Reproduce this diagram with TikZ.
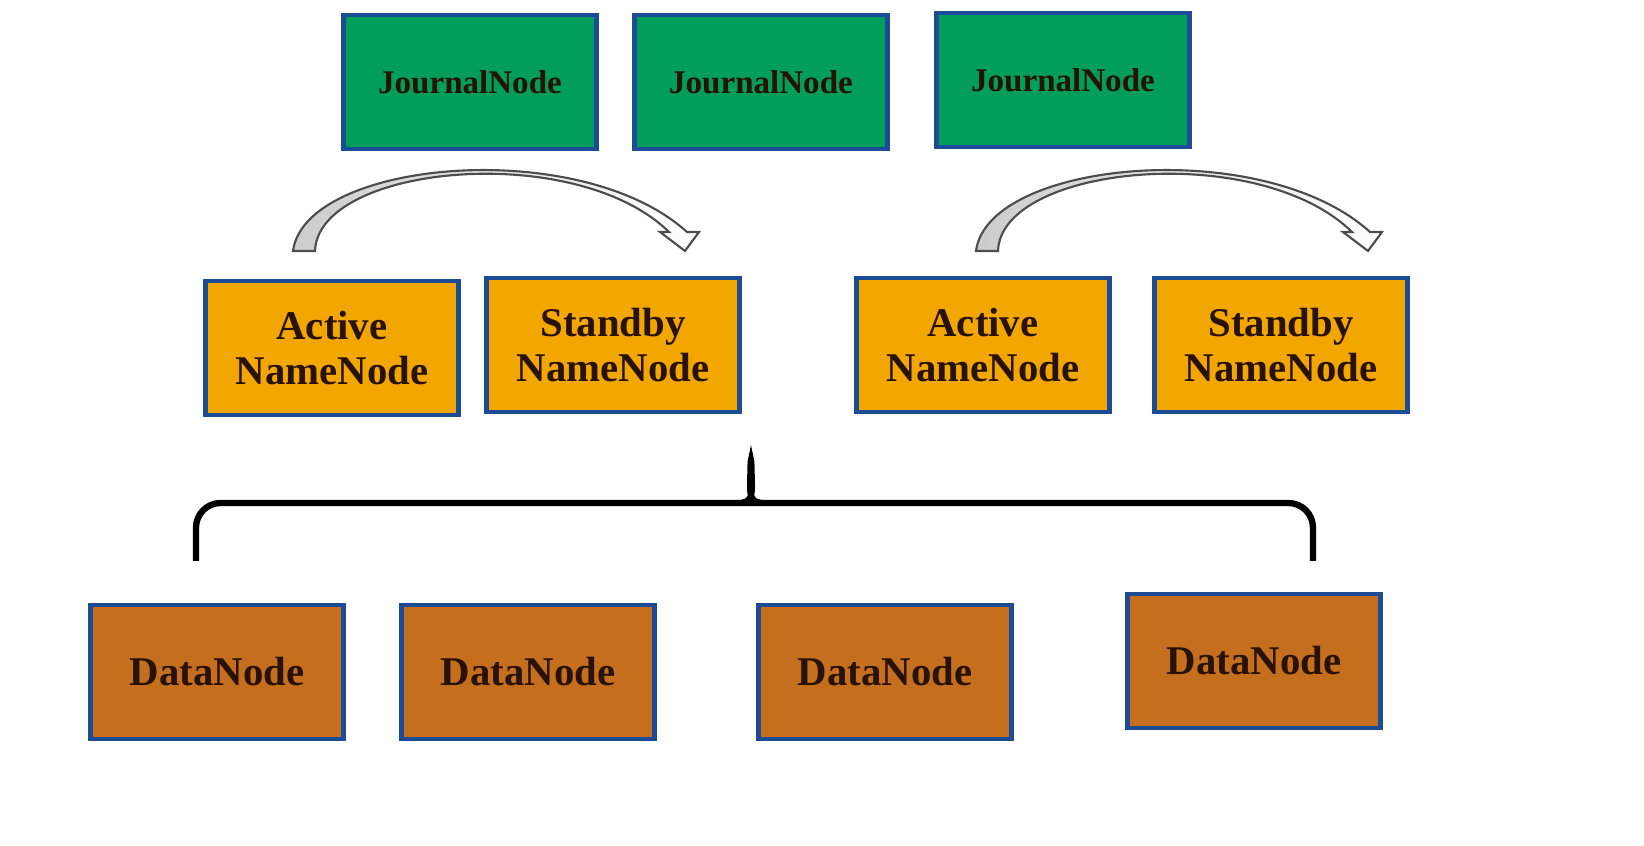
\documentclass[tikz,border=0pt]{standalone}
\usepackage{fontspec}
\setmainfont{Liberation Serif}
\definecolor{jgreen}{RGB}{0,158,90}
\definecolor{nnorange}{RGB}{242,166,0}
\definecolor{dnbrown}{RGB}{196,110,30}
\definecolor{boxblue}{RGB}{28,76,150}
\definecolor{inkdark}{RGB}{40,18,4}
\begin{document}
\begin{tikzpicture}[x=0.01cm,y=-0.01cm,
    box/.style={draw=boxblue, line width=1.2pt, minimum width=2.53cm, minimum height=1.34cm,
      inner sep=0pt, align=center, text=inkdark, font=\bfseries\fontsize{11.6}{12.9}\selectfont},
    jbox/.style={box, fill=jgreen, font=\bfseries\fontsize{9.4}{11}\selectfont},
    nnbox/.style={box, fill=nnorange},
    dnbox/.style={box, fill=dnbrown}]
    \useasboundingbox (0,0) rectangle (1644,846);
    % journal nodes
    \node[jbox] (jn1) at (470,82) {JournalNode};
    \node[jbox] (jn2) at (761,82) {JournalNode};
    \node[jbox] (jn3) at (1063,80) {JournalNode};
    % name nodes
    \node[nnbox] (ann1) at (332,348) {Active\\NameNode};
    \node[nnbox] (snn1) at (613,345) {Standby\\NameNode};
    \node[nnbox] (ann2) at (983,345) {Active\\NameNode};
    \node[nnbox] (snn2) at (1281,345) {Standby\\NameNode};
    % data nodes
    \node[dnbox] (dn1) at (217,672) {DataNode};
    \node[dnbox] (dn2) at (528,672) {DataNode};
    \node[dnbox] (dn3) at (885,672) {DataNode};
    \node[dnbox] (dn4) at (1254,661) {DataNode};
    % failover arrows
    \foreach \dx in {0,683}
    \shadedraw[shift={(\dx,0)}, left color=gray!40, middle color=white, right color=white,
      draw=black!70, line width=0.6pt]
      (293,251) .. controls (305,160) and (580,135) .. (687,232) -- (699,232) -- (685,251)
      -- (660,232) -- (669,232) .. controls (575,140) and (318,165) .. (315,251) -- cycle;
    % brace
    \draw[line width=1.8pt, rounded corners=7] (196,561) -- (196,503) -- (740,503)
      .. controls (748,503) and (750,495) .. (751,446)
      .. controls (752,495) and (754,503) .. (762,503) -- (1313,503) -- (1313,561);
\end{tikzpicture}
\end{document}
